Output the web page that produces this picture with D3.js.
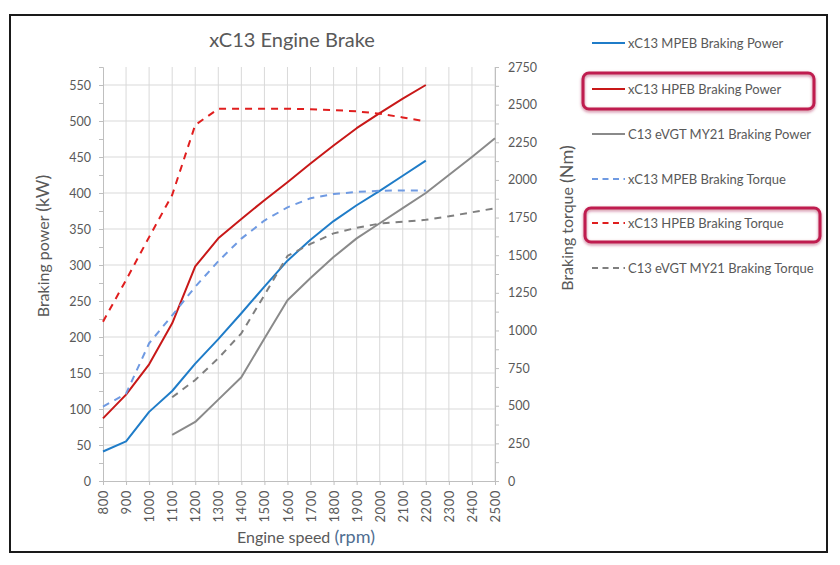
<!DOCTYPE html>
<html>
<head>
<meta charset="utf-8">
<script src="https://cdn.jsdelivr.net/npm/d3@7"></script>
<style>
  html, body { margin: 0; padding: 0; background: #fff; }
  svg { display: block; font-family: Lato, "Open Sans", sans-serif; }
</style>
</head>
<body>
<svg id="chart" width="840" height="565"></svg>
<script>
// ---------- data ----------
const rpmXC13 = [800, 900, 1000, 1100, 1200, 1300, 1400, 1500, 1600, 1700, 1800, 1900, 2000, 2100, 2200];
const rpmC13  = [1100, 1200, 1300, 1400, 1500, 1600, 1700, 1800, 1900, 2000, 2100, 2200, 2300, 2400, 2500];

const mpebPower  = [41, 55, 96, 125, 163, 197, 233, 270, 306, 335, 361, 383, 403, 424, 445];
const hpebPower  = [87, 120, 162, 219, 298, 337, 364, 390, 415, 441, 466, 490, 511, 531, 550];
const c13Power   = [64, 82, 113, 144, 198, 251, 282, 311, 337, 358, 379, 400, 425, 450, 476];

const mpebTorque = [494, 580, 915, 1100, 1290, 1460, 1610, 1730, 1818, 1878, 1906, 1920, 1928, 1930, 1930];
const hpebTorque = [1058, 1335, 1620, 1900, 2365, 2472, 2473, 2473, 2473, 2470, 2464, 2455, 2440, 2415, 2388];
const c13Torque  = [556, 671, 815, 981, 1235, 1495, 1575, 1645, 1682, 1710, 1722, 1735, 1758, 1785, 1812];

const xTicks = d3.range(800, 2501, 100);
const powerTicks = d3.range(0, 551, 50);
const torqueTicks = d3.range(0, 2751, 250);

const seriesNames = [
  "xC13 MPEB Braking Power",
  "xC13 HPEB Braking Power",
  "C13 eVGT MY21 Braking Power",
  "xC13 MPEB Braking Torque",
  "xC13 HPEB Braking Torque",
  "C13 eVGT MY21 Braking Torque"
];
const highlighted = ["xC13 HPEB Braking Power", "xC13 HPEB Braking Torque"];

const series = [
  { name: seriesNames[0], rpm: rpmXC13, values: mpebPower,  axis: "power",  color: "#1f7cc8", dash: null },
  { name: seriesNames[1], rpm: rpmXC13, values: hpebPower,  axis: "power",  color: "#c81818", dash: null },
  { name: seriesNames[2], rpm: rpmC13,  values: c13Power,   axis: "power",  color: "#8a8a8a", dash: null },
  { name: seriesNames[3], rpm: rpmXC13, values: mpebTorque, axis: "torque", color: "#6f9ae2", dash: "7,6" },
  { name: seriesNames[4], rpm: rpmXC13, values: hpebTorque, axis: "torque", color: "#e01e1e", dash: "7,6" },
  { name: seriesNames[5], rpm: rpmC13,  values: c13Torque,  axis: "torque", color: "#7f7f7f", dash: "7,6" }
];

// ---------- layout ----------
const svg = d3.select("#chart");
const pL = 103, pR = 495, pT = 67, pB = 481;
const textColor = "#595959";
const gridColor = "#d9d9d9";
const fmt = d3.format("d");

const x = d3.scaleLinear().domain([800, 2500]).range([pL, pR]);
const yP = d3.scaleLinear().domain([0, 575]).range([pB, pT]);
const yT = d3.scaleLinear().domain([0, 2750]).range([pB, pT]);

// defs: glow for highlight boxes
const defs = svg.append("defs");
const f = defs.append("filter").attr("id", "glow").attr("x", "-10%").attr("y", "-40%").attr("width", "120%").attr("height", "180%");
f.append("feDropShadow").attr("dx", 0).attr("dy", 1.5).attr("stdDeviation", 1.8)
  .attr("flood-color", "#a0143c").attr("flood-opacity", 0.55);

// outer frame
svg.append("rect").attr("x", 10).attr("y", 15).attr("width", 817).attr("height", 537)
  .attr("fill", "#fff").attr("stroke", "#1a1a1a").attr("stroke-width", 2);

// gridlines
svg.append("g").selectAll("line").data(xTicks.filter(d => d > 800)).join("line")
  .attr("x1", d => x(d)).attr("x2", d => x(d)).attr("y1", pT).attr("y2", pB)
  .attr("stroke", gridColor).attr("stroke-width", 1);
svg.append("g").selectAll("line").data(powerTicks.filter(d => d > 0)).join("line")
  .attr("x1", pL).attr("x2", pR).attr("y1", d => yP(d)).attr("y2", d => yP(d))
  .attr("stroke", gridColor).attr("stroke-width", 1);

// axes
const axisStyle = g => {
  g.select(".domain").attr("stroke", "#bfbfbf");
  g.selectAll(".tick line").attr("stroke", "#bfbfbf");
  g.selectAll(".tick text").attr("fill", textColor).style("font-family", "Lato, 'Open Sans', sans-serif");
};

// left axis
svg.append("g").attr("transform", `translate(${pL},0)`)
  .call(d3.axisLeft(yP).tickValues(d3.range(0, 576, 25)).tickSize(4).tickFormat(""))
  .call(axisStyle);
svg.append("g").attr("transform", `translate(${pL},0)`)
  .call(d3.axisLeft(yP).tickValues(powerTicks).tickSize(0).tickPadding(12).tickFormat(fmt))
  .call(axisStyle)
  .call(g => g.select(".domain").remove())
  .call(g => g.selectAll(".tick text").style("font-size", "12.5px"));

// right axis
svg.append("g").attr("transform", `translate(${pR},0)`)
  .call(d3.axisRight(yT).tickValues(d3.range(0, 2751, 125)).tickSize(4).tickFormat(""))
  .call(axisStyle);
svg.append("g").attr("transform", `translate(${pR},0)`)
  .call(d3.axisRight(yT).tickValues(torqueTicks).tickSize(0).tickPadding(13).tickFormat(fmt))
  .call(axisStyle)
  .call(g => g.select(".domain").remove())
  .call(g => g.selectAll(".tick text").style("font-size", "12.5px"));

// bottom axis
const xa = svg.append("g").attr("transform", `translate(0,${pB})`)
  .call(d3.axisBottom(x).tickValues(xTicks).tickSize(4).tickFormat(fmt))
  .call(axisStyle);
xa.selectAll(".tick text")
  .style("font-size", "13px")
  .style("letter-spacing", "0.6px")
  .attr("text-anchor", "end")
  .attr("dy", "0.35em")
  .attr("transform", "rotate(-90)")
  .attr("x", -9).attr("y", 0);

// series lines
const lineGen = (scaleY) => d3.line().x(d => x(d[0])).y(d => scaleY(d[1]));
series.forEach(s => {
  const pts = s.rpm.map((r, i) => [r, s.values[i]]);
  svg.append("path")
    .datum(pts)
    .attr("d", lineGen(s.axis === "power" ? yP : yT))
    .attr("fill", "none")
    .attr("stroke", s.color)
    .attr("stroke-width", 2)
    .attr("stroke-linejoin", "round")
    .attr("stroke-dasharray", s.dash);
});

// title
svg.append("text").attr("x", 292).attr("y", 47).attr("text-anchor", "middle")
  .attr("fill", textColor).style("font-size", "20px").text("xC13 Engine Brake");

// axis titles
svg.append("text").attr("transform", "translate(49,246) rotate(-90)").attr("text-anchor", "middle")
  .attr("fill", textColor).style("font-size", "16px")
  .call(t => { t.append("tspan").text("Braking power "); t.append("tspan").style("font-size", "18px").text("(kW)"); });
svg.append("text").attr("transform", "translate(573,218) rotate(-90)").attr("text-anchor", "middle")
  .attr("fill", textColor).style("font-size", "16px")
  .call(t => { t.append("tspan").text("Braking torque "); t.append("tspan").style("font-size", "18px").text("(Nm)"); });
svg.append("text").attr("x", 306).attr("y", 543).attr("text-anchor", "middle")
  .attr("fill", textColor).style("font-size", "16px")
  .call(t => { t.append("tspan").text("Engine speed "); t.append("tspan").attr("fill", "#4f6e91").style("font-size", "18px").text("(rpm)"); });

// legend
const legendY = [43, 89, 134, 179, 223, 268];
const lg = svg.append("g");
series.forEach((s, i) => {
  const yy = legendY[i];
  lg.append("line").attr("x1", 592).attr("x2", 625).attr("y1", yy).attr("y2", yy)
    .attr("stroke", s.color).attr("stroke-width", 2).attr("stroke-dasharray", s.dash ? "6,4.5" : null);
  lg.append("text").attr("x", 628).attr("y", yy).attr("dy", "0.35em")
    .attr("fill", textColor).style("font-size", "13px").text(s.name);
});

// highlight boxes
const boxes = [
  { name: highlighted[0], x0: 583, x1: 814, y0: 73, y1: 109 },
  { name: highlighted[1], x0: 585, x1: 820, y0: 208, y1: 242 }
];
svg.append("g").selectAll("rect").data(boxes).join("rect")
  .attr("x", d => d.x0).attr("y", d => d.y0)
  .attr("width", d => d.x1 - d.x0).attr("height", d => d.y1 - d.y0)
  .attr("rx", 6).attr("fill", "none")
  .attr("stroke", "#bf1f4f").attr("stroke-width", 3)
  .attr("filter", "url(#glow)");
</script>
</body>
</html>
